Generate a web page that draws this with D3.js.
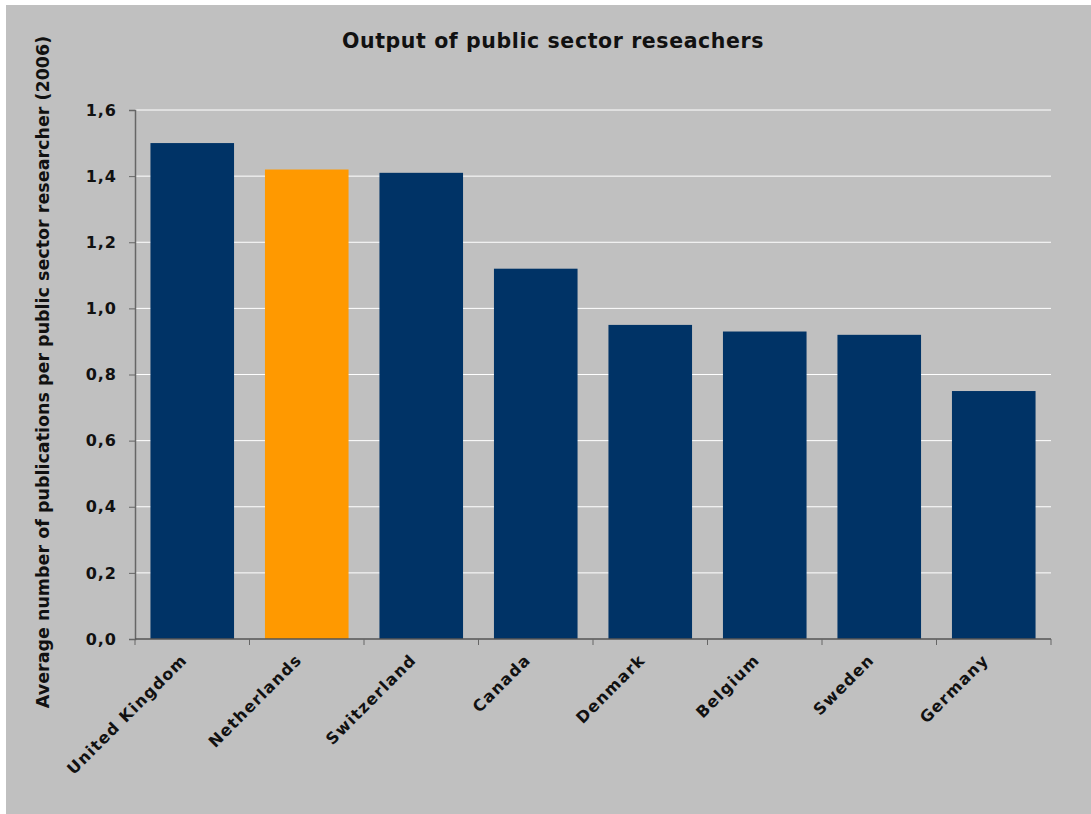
<!DOCTYPE html>
<html>
<head>
<meta charset="utf-8">
<script src="https://cdn.jsdelivr.net/npm/d3@7"></script>
<style>
    body { margin: 0; background: #fff; }
    text { font-family: 'DejaVu Sans', Verdana, sans-serif; }
</style>
</head>
<body>
<svg id="chart"></svg>
<script>
const countries = ['United Kingdom', 'Netherlands', 'Switzerland', 'Canada', 'Denmark', 'Belgium', 'Sweden', 'Germany']
const values = [1.50, 1.42, 1.41, 1.12, 0.95, 0.93, 0.92, 0.75]
const highlight = 'Netherlands'
const yTicks = [0, 0.2, 0.4, 0.6, 0.8, 1.0, 1.2, 1.4, 1.6]

const data = countries.map((c, i) => ({ country: c, value: values[i] }))

const width = 1091, height = 814
const margin = { top: 110, right: 40, bottom: 175, left: 135 }

const svg = d3.select('#chart').attr('width', width).attr('height', height)

// grey chart area
svg.append('rect')
    .attr('x', 6).attr('y', 5)
    .attr('width', width - 6).attr('height', height - 5)
    .attr('fill', '#c0c0c0')

const x = d3.scaleBand()
    .domain(countries)
    .range([margin.left, 1051])
    .paddingInner(0.27)
    .paddingOuter(0.135)

const y = d3.scaleLinear()
    .domain([0, 1.6])
    .range([639, 110])

// gridlines
svg.append('g').selectAll('line')
    .data(yTicks.slice(1))
    .enter().append('line')
    .attr('x1', margin.left).attr('x2', 1051)
    .attr('y1', d => y(d)).attr('y2', d => y(d))
    .attr('stroke', '#fff').attr('stroke-width', 1)

// bars
svg.append('g').selectAll('rect')
    .data(data)
    .enter().append('rect')
    .attr('x', d => x(d.country))
    .attr('width', x.bandwidth())
    .attr('y', d => y(d.value))
    .attr('height', d => y(0) - y(d.value))
    .attr('fill', d => d.country === highlight ? '#ff9900' : '#003366')

// y axis
const yAxis = svg.append('g')
    .attr('transform', `translate(${margin.left},0)`)
    .call(d3.axisLeft(y).tickValues(yTicks).tickSize(6).tickPadding(12)
        .tickFormat(d => d3.format('.1f')(d).replace('.', ',')))
yAxis.select('.domain').attr('stroke', '#666').attr('stroke-width', 1.5)
yAxis.selectAll('.tick line').attr('stroke', '#666')
yAxis.selectAll('text')
    .attr('font-size', 16).attr('font-weight', 'bold').attr('fill', '#111')
    .attr('letter-spacing', 1)
    .attr('font-family', 'DejaVu Sans, Verdana, sans-serif')

// x axis: ticks between categories
const boundaries = d3.range(countries.length + 1).map(i => margin.left + i * (1051 - margin.left) / countries.length)
const xAxis = svg.append('g')
xAxis.append('line')
    .attr('x1', margin.left).attr('x2', 1051)
    .attr('y1', y(0)).attr('y2', y(0))
    .attr('stroke', '#555').attr('stroke-width', 1.5)
xAxis.selectAll('line.tick')
    .data(boundaries)
    .enter().append('line')
    .attr('class', 'tick')
    .attr('x1', d => d).attr('x2', d => d)
    .attr('y1', y(0)).attr('y2', y(0) + 6)
    .attr('stroke', '#666')

xAxis.selectAll('text')
    .data(countries)
    .enter().append('text')
    .attr('transform', d => `translate(${x(d) + x.bandwidth() / 2 - 4},${y(0) + 22}) rotate(-45)`)
    .attr('text-anchor', 'end')
    .attr('font-size', 16).attr('font-weight', 'bold').attr('fill', '#111')
    .attr('letter-spacing', 1.2)
    .text(d => d)

// title
svg.append('text')
    .attr('x', 553).attr('y', 48)
    .attr('text-anchor', 'middle')
    .attr('font-size', 20.5).attr('font-weight', 'bold').attr('fill', '#111')
    .attr('letter-spacing', 0.6)
    .text('Output of public sector reseachers')

// y label
svg.append('text')
    .attr('transform', `translate(49,372) rotate(-90)`)
    .attr('text-anchor', 'middle')
    .attr('font-size', 17.5).attr('font-weight', 'bold').attr('fill', '#111')
    .attr('font-family', 'DejaVu Sans Condensed, sans-serif')
    .text('Average number of publications per public sector researcher (2006)')
</script>
</body>
</html>
